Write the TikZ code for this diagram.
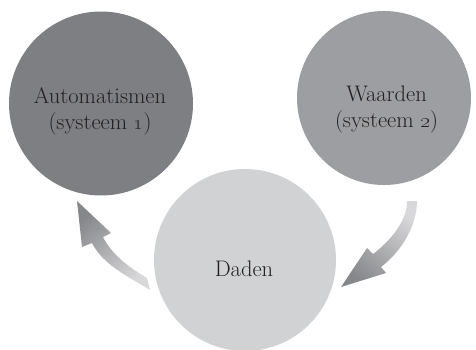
\documentclass[tikz,border=0pt]{standalone}
\definecolor{darkdisc}{HTML}{7E7F83}
\definecolor{middisc}{HTML}{9D9EA1}
\definecolor{lightdisc}{HTML}{D1D2D4}
\definecolor{ink}{HTML}{231F20}
\definecolor{arrowlight}{HTML}{D8D8DA}
\definecolor{arrowdark}{HTML}{86878A}
\begin{document}
\begin{tikzpicture}[x=1pt,y=-1pt,
  disc/.style={circle, inner sep=0pt, minimum size=#1},
  caption/.style={text=ink, align=center, inner sep=0pt,
    font=\fontsize{22.5}{26.5}\selectfont},
  flow/.style={top color=arrowdark, bottom color=arrowlight}]
\path[use as bounding box] (0,0) rectangle (476,350);

% the three discs
\node[disc=184pt, fill=darkdisc] (auto) at (101,103.5) {};
\node[disc=174pt, fill=middisc] (values) at (384,98) {};
\node[disc=182pt, fill=lightdisc] (deeds) at (245,260) {};

% their captions
\node[caption] (autotext) at (100,111.5) {Automatismen\\(systeem \oldstylenums{1})};
\node[caption] (valuestext) at (386.5,109.5) {Waarden\\(systeem \oldstylenums{2})};
\node[caption] (deedstext) at (244,268.5) {Daden};

% curved arrow from the deeds up to the automatisms
\shade[flow, shading angle=40]
  (150,290) .. controls (129,277) and (103,265) .. (92,243)
  -- (82,247) -- (77,201) -- (111,233) -- (103,237)
  .. controls (112,255) and (130,268) .. (147,278) -- cycle;

% curved arrow from the values down to the deeds
\shade[flow, shading angle=140]
  (417,201) .. controls (417,226) and (401,252) .. (381,267)
  -- (386,273) -- (341,287) -- (367,248) -- (373,254)
  .. controls (389,242) and (407,222) .. (407,201) -- cycle;
\end{tikzpicture}
\end{document}
